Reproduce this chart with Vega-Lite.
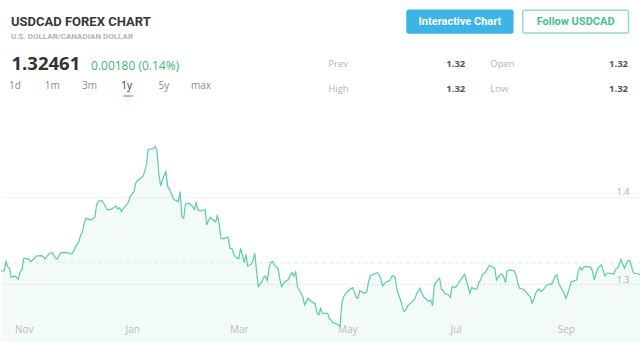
{
 "$schema": "https://vega.github.io/schema/vega-lite/v6.json",
 "padding": 0,
 "spacing": 0,
 "bounds": "flush",
 "background": "white",
 "config": {"view": {"stroke": null}, "font": "Open Sans"},
 "datasets": {
  "stats": [
   {"stat": "Prev", "value": 1.32, "column": "A", "line": "1"},
   {"stat": "Open", "value": 1.32, "column": "B", "line": "1"},
   {"stat": "High", "value": 1.32, "column": "A", "line": "2"},
   {"stat": "Low", "value": 1.32, "column": "B", "line": "2"}
  ],
  "buttons": [
   {"button": "Interactive Chart", "group": "actions"},
   {"button": "Follow USDCAD", "group": "actions"}
  ],
  "usdcad": [
   {"date":"2015-10-19","close":1.3152},{"date":"2015-10-21","close":1.3152},{"date":"2015-10-22","close":1.3259},{"date":"2015-10-23","close":1.3202},{"date":"2015-10-24","close":1.3183},{"date":"2015-10-25","close":1.3080},{"date":"2015-10-26","close":1.3088},{"date":"2015-10-27","close":1.3095},{"date":"2015-10-28","close":1.3080},{"date":"2015-10-29","close":1.3057},{"date":"2015-10-30","close":1.3145},{"date":"2015-10-31","close":1.3164},
   {"date":"2015-11-01","close":1.3297},{"date":"2015-11-02","close":1.3297},{"date":"2015-11-04","close":1.3285},{"date":"2015-11-05","close":1.3259},{"date":"2015-11-07","close":1.3297},{"date":"2015-11-08","close":1.3323},{"date":"2015-11-11","close":1.3327},{"date":"2015-11-12","close":1.3316},{"date":"2015-11-13","close":1.3289},{"date":"2015-11-15","close":1.3346},{"date":"2015-11-16","close":1.3354},{"date":"2015-11-17","close":1.3361},{"date":"2015-11-19","close":1.3297},{"date":"2015-11-20","close":1.3289},{"date":"2015-11-21","close":1.3335},{"date":"2015-11-22","close":1.3361},{"date":"2015-11-25","close":1.3365},{"date":"2015-11-27","close":1.3354},{"date":"2015-11-28","close":1.3346},{"date":"2015-11-29","close":1.3373},{"date":"2015-11-30","close":1.3422},
   {"date":"2015-12-02","close":1.3487},{"date":"2015-12-03","close":1.3563},{"date":"2015-12-04","close":1.3590},{"date":"2015-12-05","close":1.3696},{"date":"2015-12-06","close":1.3753},{"date":"2015-12-08","close":1.3742},{"date":"2015-12-09","close":1.3734},{"date":"2015-12-11","close":1.3765},{"date":"2015-12-12","close":1.3906},{"date":"2015-12-13","close":1.3951},{"date":"2015-12-15","close":1.3955},{"date":"2015-12-16","close":1.3925},{"date":"2015-12-18","close":1.3849},{"date":"2015-12-20","close":1.3856},{"date":"2015-12-21","close":1.3868},{"date":"2015-12-23","close":1.3894},{"date":"2015-12-24","close":1.3856},{"date":"2015-12-25","close":1.3875},{"date":"2015-12-26","close":1.3830},{"date":"2015-12-27","close":1.3868},{"date":"2015-12-29","close":1.3906},{"date":"2015-12-30","close":1.3944},{"date":"2015-12-31","close":1.4008},
   {"date":"2016-01-02","close":1.4058},{"date":"2016-01-03","close":1.4153},{"date":"2016-01-04","close":1.4183},{"date":"2016-01-05","close":1.4199},{"date":"2016-01-07","close":1.4229},{"date":"2016-01-08","close":1.4286},{"date":"2016-01-09","close":1.4362},{"date":"2016-01-10","close":1.4533},{"date":"2016-01-11","close":1.4541},{"date":"2016-01-13","close":1.4553},{"date":"2016-01-14","close":1.4572},{"date":"2016-01-15","close":1.4526},{"date":"2016-01-16","close":1.4267},{"date":"2016-01-17","close":1.4123},{"date":"2016-01-18","close":1.4191},{"date":"2016-01-20","close":1.4286},{"date":"2016-01-21","close":1.4115},{"date":"2016-01-22","close":1.4084},{"date":"2016-01-23","close":1.4039},{"date":"2016-01-24","close":1.3982},{"date":"2016-01-25","close":1.3963},{"date":"2016-01-26","close":1.3955},{"date":"2016-01-27","close":1.3944},{"date":"2016-01-28","close":1.4058},{"date":"2016-01-29","close":1.3772},{"date":"2016-01-30","close":1.3753},{"date":"2016-01-31","close":1.3917},
   {"date":"2016-02-02","close":1.3925},{"date":"2016-02-04","close":1.3887},{"date":"2016-02-05","close":1.3856},{"date":"2016-02-06","close":1.3928},{"date":"2016-02-07","close":1.3849},{"date":"2016-02-09","close":1.3837},{"date":"2016-02-11","close":1.3856},{"date":"2016-02-12","close":1.3677},{"date":"2016-02-13","close":1.3734},{"date":"2016-02-14","close":1.3765},{"date":"2016-02-15","close":1.3742},{"date":"2016-02-17","close":1.3715},{"date":"2016-02-18","close":1.3791},{"date":"2016-02-19","close":1.3677},{"date":"2016-02-20","close":1.3525},{"date":"2016-02-21","close":1.3518},{"date":"2016-02-23","close":1.3533},{"date":"2016-02-24","close":1.3537},{"date":"2016-02-25","close":1.3411},{"date":"2016-02-26","close":1.3411},{"date":"2016-02-27","close":1.3354},{"date":"2016-02-28","close":1.3316},{"date":"2016-02-29","close":1.3301},
   {"date":"2016-03-01","close":1.3293},{"date":"2016-03-02","close":1.3411},{"date":"2016-03-03","close":1.3335},{"date":"2016-03-04","close":1.3247},{"date":"2016-03-05","close":1.3342},{"date":"2016-03-06","close":1.3209},{"date":"2016-03-08","close":1.3232},{"date":"2016-03-09","close":1.3270},{"date":"2016-03-10","close":1.3354},{"date":"2016-03-11","close":1.3145},{"date":"2016-03-12","close":1.2973},{"date":"2016-03-13","close":1.3000},{"date":"2016-03-14","close":1.3030},{"date":"2016-03-15","close":1.3080},{"date":"2016-03-16","close":1.3095},{"date":"2016-03-17","close":1.3042},{"date":"2016-03-18","close":1.3183},{"date":"2016-03-19","close":1.3251},{"date":"2016-03-20","close":1.3259},{"date":"2016-03-21","close":1.3221},{"date":"2016-03-23","close":1.3183},{"date":"2016-03-24","close":1.3068},{"date":"2016-03-25","close":1.2973},{"date":"2016-03-26","close":1.3004},{"date":"2016-03-27","close":1.3030},{"date":"2016-03-29","close":1.3057},{"date":"2016-03-30","close":1.3107},{"date":"2016-03-31","close":1.3133},
   {"date":"2016-04-01","close":1.3095},{"date":"2016-04-02","close":1.3141},{"date":"2016-04-03","close":1.2973},{"date":"2016-04-04","close":1.2935},{"date":"2016-04-05","close":1.2897},{"date":"2016-04-06","close":1.2859},{"date":"2016-04-07","close":1.2764},{"date":"2016-04-08","close":1.2802},{"date":"2016-04-09","close":1.2840},{"date":"2016-04-11","close":1.2802},{"date":"2016-04-12","close":1.2791},{"date":"2016-04-13","close":1.2776},{"date":"2016-04-14","close":1.2669},{"date":"2016-04-15","close":1.2650},{"date":"2016-04-16","close":1.2726},{"date":"2016-04-17","close":1.2669},{"date":"2016-04-19","close":1.2669},{"date":"2016-04-20","close":1.2669},{"date":"2016-04-21","close":1.2604},{"date":"2016-04-22","close":1.2593},{"date":"2016-04-23","close":1.2562},{"date":"2016-04-25","close":1.2547},{"date":"2016-04-26","close":1.2536},{"date":"2016-04-27","close":1.2528},{"date":"2016-04-28","close":1.2783},{"date":"2016-04-29","close":1.2859},{"date":"2016-04-30","close":1.2890},
   {"date":"2016-05-01","close":1.2916},{"date":"2016-05-02","close":1.2935},{"date":"2016-05-04","close":1.2962},{"date":"2016-05-05","close":1.2916},{"date":"2016-05-06","close":1.2852},{"date":"2016-05-07","close":1.2840},{"date":"2016-05-08","close":1.2928},{"date":"2016-05-09","close":1.2916},{"date":"2016-05-11","close":1.2897},{"date":"2016-05-12","close":1.2916},{"date":"2016-05-13","close":1.3030},{"date":"2016-05-14","close":1.3095},{"date":"2016-05-16","close":1.3118},{"date":"2016-05-18","close":1.3133},{"date":"2016-05-19","close":1.3107},{"date":"2016-05-20","close":1.3049},{"date":"2016-05-21","close":1.2981},{"date":"2016-05-22","close":1.3011},{"date":"2016-05-23","close":1.3030},{"date":"2016-05-25","close":1.3042},{"date":"2016-05-26","close":1.3088},{"date":"2016-05-27","close":1.3095},{"date":"2016-05-28","close":1.3080},{"date":"2016-05-29","close":1.2935},{"date":"2016-05-30","close":1.2878},{"date":"2016-05-31","close":1.2821},
   {"date":"2016-06-01","close":1.2745},{"date":"2016-06-02","close":1.2688},{"date":"2016-06-03","close":1.2707},{"date":"2016-06-04","close":1.2753},{"date":"2016-06-06","close":1.2791},{"date":"2016-06-08","close":1.2829},{"date":"2016-06-09","close":1.2890},{"date":"2016-06-11","close":1.2954},{"date":"2016-06-12","close":1.2897},{"date":"2016-06-13","close":1.2859},{"date":"2016-06-15","close":1.2821},{"date":"2016-06-16","close":1.2802},{"date":"2016-06-17","close":1.2821},{"date":"2016-06-18","close":1.2753},{"date":"2016-06-19","close":1.2992},{"date":"2016-06-21","close":1.3049},{"date":"2016-06-22","close":1.3068},{"date":"2016-06-23","close":1.2943},{"date":"2016-06-24","close":1.2924},{"date":"2016-06-25","close":1.2897},{"date":"2016-06-27","close":1.2878},{"date":"2016-06-28","close":1.2852},{"date":"2016-06-29","close":1.2973},
   {"date":"2016-07-01","close":1.2966},{"date":"2016-07-02","close":1.2992},{"date":"2016-07-03","close":1.3030},{"date":"2016-07-04","close":1.3057},{"date":"2016-07-05","close":1.3088},{"date":"2016-07-06","close":1.3114},{"date":"2016-07-07","close":1.3049},{"date":"2016-07-08","close":1.2973},{"date":"2016-07-09","close":1.2897},{"date":"2016-07-10","close":1.2962},{"date":"2016-07-12","close":1.2947},{"date":"2016-07-13","close":1.2947},{"date":"2016-07-14","close":1.3011},{"date":"2016-07-15","close":1.3049},{"date":"2016-07-16","close":1.3107},{"date":"2016-07-18","close":1.3145},{"date":"2016-07-19","close":1.3183},{"date":"2016-07-20","close":1.3217},{"date":"2016-07-21","close":1.3202},{"date":"2016-07-23","close":1.3183},{"date":"2016-07-24","close":1.3049},{"date":"2016-07-25","close":1.3080},{"date":"2016-07-26","close":1.3107},{"date":"2016-07-27","close":1.3118},{"date":"2016-07-28","close":1.3088},{"date":"2016-07-29","close":1.3019},{"date":"2016-07-30","close":1.3156},
   {"date":"2016-08-01","close":1.3164},{"date":"2016-08-03","close":1.3152},{"date":"2016-08-04","close":1.3107},{"date":"2016-08-05","close":1.3019},{"date":"2016-08-06","close":1.2954},{"date":"2016-08-08","close":1.2943},{"date":"2016-08-09","close":1.2928},{"date":"2016-08-11","close":1.2878},{"date":"2016-08-12","close":1.2859},{"date":"2016-08-13","close":1.2783},{"date":"2016-08-14","close":1.2829},{"date":"2016-08-15","close":1.2897},{"date":"2016-08-16","close":1.2928},{"date":"2016-08-17","close":1.2947},{"date":"2016-08-18","close":1.2916},{"date":"2016-08-19","close":1.2935},{"date":"2016-08-20","close":1.2954},{"date":"2016-08-21","close":1.2989},{"date":"2016-08-23","close":1.3004},{"date":"2016-08-24","close":1.3000},{"date":"2016-08-25","close":1.3042},{"date":"2016-08-26","close":1.3095},{"date":"2016-08-27","close":1.3107},{"date":"2016-08-28","close":1.3011},{"date":"2016-08-29","close":1.2973},{"date":"2016-08-30","close":1.2935},{"date":"2016-08-31","close":1.2897},
   {"date":"2016-09-01","close":1.2840},{"date":"2016-09-02","close":1.2890},{"date":"2016-09-03","close":1.2954},{"date":"2016-09-04","close":1.3030},{"date":"2016-09-06","close":1.3042},{"date":"2016-09-07","close":1.3049},{"date":"2016-09-08","close":1.3145},{"date":"2016-09-09","close":1.3194},{"date":"2016-09-10","close":1.3164},{"date":"2016-09-11","close":1.3194},{"date":"2016-09-12","close":1.3202},{"date":"2016-09-13","close":1.3202},{"date":"2016-09-15","close":1.3194},{"date":"2016-09-16","close":1.3145},{"date":"2016-09-17","close":1.3049},{"date":"2016-09-18","close":1.3126},{"date":"2016-09-19","close":1.3183},{"date":"2016-09-20","close":1.3202},{"date":"2016-09-21","close":1.3221},{"date":"2016-09-22","close":1.3156},{"date":"2016-09-23","close":1.3095},{"date":"2016-09-24","close":1.3126},{"date":"2016-09-26","close":1.3126},{"date":"2016-09-27","close":1.3118},{"date":"2016-09-28","close":1.3118},{"date":"2016-09-29","close":1.3171},{"date":"2016-09-30","close":1.3183},
   {"date":"2016-10-01","close":1.3221},{"date":"2016-10-02","close":1.3285},{"date":"2016-10-03","close":1.3232},{"date":"2016-10-04","close":1.3183},{"date":"2016-10-05","close":1.3232},{"date":"2016-10-06","close":1.3270},{"date":"2016-10-07","close":1.3270},{"date":"2016-10-08","close":1.3202},{"date":"2016-10-09","close":1.3133},{"date":"2016-10-10","close":1.3126},{"date":"2016-10-12","close":1.3118},{"date":"2016-10-13","close":1.3107},{"date":"2016-10-14","close":1.3095}
  ]
 },
 "vconcat": [
  {
   "width": 640,
   "height": 110,
   "layer": [
    {
     "data": {"values": [{"label": "USDCAD FOREX CHART"}]},
     "mark": {"type": "text", "align": "left", "baseline": "alphabetic", "fontSize": 13, "fontWeight": "bold", "font": "Roboto", "color": "#383838"},
     "encoding": {
      "x": {"field": "label", "type": "nominal", "scale": {"type": "point", "range": [10, 10]}, "axis": null},
      "y": {"field": "label", "type": "nominal", "scale": {"type": "point", "range": [26, 26]}, "axis": null},
      "text": {"field": "label"}
     }
    },
    {
     "data": {"values": [{"label": "U.S. DOLLAR/CANADIAN DOLLAR"}]},
     "mark": {"type": "text", "align": "left", "baseline": "alphabetic", "fontSize": 8, "fontWeight": "bold", "font": "Roboto", "color": "#b3b3b3"},
     "encoding": {
      "x": {"field": "label", "type": "nominal", "scale": {"type": "point", "range": [10, 10]}, "axis": null},
      "y": {"field": "label", "type": "nominal", "scale": {"type": "point", "range": [39.3, 39.3]}, "axis": null},
      "text": {"field": "label"}
     }
    },
    {
     "data": {"values": [{"label": "1.32461"}]},
     "mark": {"type": "text", "align": "left", "baseline": "alphabetic", "fontSize": 18.5, "fontWeight": "bold", "color": "#333333"},
     "encoding": {
      "x": {"field": "label", "type": "nominal", "scale": {"type": "point", "range": [10.5, 10.5]}, "axis": null},
      "y": {"field": "label", "type": "nominal", "scale": {"type": "point", "range": [70.3, 70.3]}, "axis": null},
      "text": {"field": "label"}
     }
    },
    {
     "data": {"values": [{"label": "0.00180 (0.14%)"}]},
     "mark": {"type": "text", "align": "left", "baseline": "alphabetic", "fontSize": 12, "color": "#3fb573"},
     "encoding": {
      "x": {"field": "label", "type": "nominal", "scale": {"type": "point", "range": [90, 90]}, "axis": null},
      "y": {"field": "label", "type": "nominal", "scale": {"type": "point", "range": [69.5, 69.5]}, "axis": null},
      "text": {"field": "label"}
     }
    },
    {
     "data": {"values": [{"range": "1d"}, {"range": "1m"}, {"range": "3m"}, {"range": "1y"}, {"range": "5y"}, {"range": "max"}]},
     "mark": {"type": "text", "align": "center", "baseline": "alphabetic", "fontSize": 10},
     "encoding": {
      "x": {"field": "range", "type": "nominal", "sort": null, "scale": {"type": "point", "range": [14, 200], "padding": 0}, "axis": null},
      "y": {"field": "range", "type": "nominal", "sort": null, "scale": {"type": "point", "range": [89.3, 89.3]}, "axis": null},
      "text": {"field": "range"},
      "color": {"condition": {"test": "datum.range === '1y'", "value": "#333333"}, "value": "#8a8a8a"}
     }
    },
    {
     "data": {"values": [{"range": "1y"}]},
     "mark": {"type": "rect", "color": "#5cc4ee"},
     "encoding": {
      "x": {"field": "range", "type": "nominal", "scale": {"type": "band", "range": [122.3, 131.7], "padding": 0}, "axis": null},
      "y": {"field": "range", "type": "nominal", "scale": {"type": "band", "range": [95.3, 96.8], "padding": 0}, "axis": null}
     }
    },
    {
     "data": {"name": "buttons"},
     "mark": {"type": "rect", "strokeWidth": 1.5, "cornerRadius": 2},
     "encoding": {
      "x": {"field": "button", "type": "nominal", "sort": null, "scale": {"type": "band", "range": [406, 627.5], "paddingInner": 0.085, "paddingOuter": 0}, "axis": null},
      "y": {"field": "group", "type": "nominal", "scale": {"type": "band", "range": [10.3, 33], "padding": 0}, "axis": null},
      "fill": {"field": "button", "type": "nominal", "scale": {"domain": ["Interactive Chart", "Follow USDCAD"], "range": ["#3cb4e6", "#ffffff"]}, "legend": null},
      "stroke": {"field": "button", "type": "nominal", "scale": {"domain": ["Interactive Chart", "Follow USDCAD"], "range": ["#3cb4e6", "#8edfc2"]}, "legend": null}
     }
    },
    {
     "data": {"name": "buttons"},
     "mark": {"type": "text", "align": "center", "baseline": "middle", "fontSize": 11, "fontWeight": "bold", "font": "Roboto"},
     "encoding": {
      "x": {"field": "button", "type": "nominal", "sort": null, "scale": {"type": "band", "range": [406, 627.5], "paddingInner": 0.085, "paddingOuter": 0}, "axis": null},
      "y": {"field": "group", "type": "nominal", "scale": {"type": "band", "range": [10.3, 33], "padding": 0}, "axis": null},
      "text": {"field": "button"},
      "color": {"field": "button", "type": "nominal", "scale": {"domain": ["Interactive Chart", "Follow USDCAD"], "range": ["#ffffff", "#48bf8e"]}, "legend": null}
     }
    },
    {
     "data": {"name": "stats"},
     "mark": {"type": "text", "align": "left", "baseline": "middle", "fontSize": 9.5, "color": "#b5b5b5"},
     "encoding": {
      "x": {"field": "column", "type": "nominal", "scale": {"type": "point", "range": [327.3, 489.3], "padding": 0}, "axis": null},
      "y": {"field": "line", "type": "nominal", "scale": {"type": "point", "range": [64.3, 88.5], "padding": 0}, "axis": null},
      "text": {"field": "stat"}
     }
    },
    {
     "data": {"name": "stats"},
     "mark": {"type": "text", "align": "right", "baseline": "middle", "fontSize": 9.5, "fontWeight": "bold", "color": "#555555"},
     "encoding": {
      "x": {"field": "column", "type": "nominal", "scale": {"type": "point", "range": [464.3, 627], "padding": 0}, "axis": null},
      "y": {"field": "line", "type": "nominal", "scale": {"type": "point", "range": [64.3, 88.5], "padding": 0}, "axis": null},
      "text": {"field": "value", "format": ".2f"}
     }
    }
   ],
   "resolve": {"scale": {"x": "independent", "y": "independent", "color": "independent", "fill": "independent", "stroke": "independent"}}
  },
  {
   "width": 640,
   "height": 232,
   "encoding": {
    "y": {
     "field": "close", "type": "quantitative",
     "scale": {"domain": [1.23413, 1.49897], "zero": false, "nice": false},
     "axis": {"orient": "right", "values": [1.3, 1.4], "format": ".1f", "domain": false, "ticks": false, "tickSize": 0, "labelAlign": "right", "labelPadding": -12, "labelBaseline": "alphabetic", "labelOffset": -2, "labelColor": "#ababab", "labelFontSize": 9, "grid": true, "gridColor": "#e6e6e6", "gridDash": [2, 2], "title": null}
    }
   },
   "layer": [
    {
     "data": {"name": "usdcad"},
     "mark": {"type": "area", "color": "#5ccca2", "opacity": 0.07, "clip": true},
     "encoding": {
      "x": {"field": "date", "type": "temporal",
       "scale": {"type": "utc", "domain": [{"year": 2015, "month": 10, "date": 19, "hours": 5, "utc": true}, {"year": 2016, "month": 10, "date": 13, "hours": 7, "utc": true}]},
       "axis": {"orient": "bottom", "offset": -18, "values": [{"year": 2015, "month": 11, "date": 1, "utc": true}, {"year": 2016, "month": 1, "date": 1, "utc": true}, {"year": 2016, "month": 3, "date": 1, "utc": true}, {"year": 2016, "month": 5, "date": 1, "utc": true}, {"year": 2016, "month": 7, "date": 1, "utc": true}, {"year": 2016, "month": 9, "date": 1, "utc": true}], "format": "%b", "domain": false, "ticks": false, "tickSize": 0, "labelPadding": 0, "labelColor": "#bdbdbd", "labelFontSize": 10, "grid": false, "title": null}
      }
     }
    },
    {
     "data": {"values": [{"close": 1.32461}]},
     "mark": {"type": "rule", "color": "#dcebe5", "strokeDash": [4, 3], "strokeWidth": 1},
     "encoding": {}
    },
    {
     "data": {"name": "usdcad"},
     "mark": {"type": "line", "color": "#5ccca2", "strokeWidth": 1.2, "clip": true},
     "encoding": {
      "x": {"field": "date", "type": "temporal",
       "scale": {"type": "utc", "domain": [{"year": 2015, "month": 10, "date": 19, "hours": 5, "utc": true}, {"year": 2016, "month": 10, "date": 13, "hours": 7, "utc": true}]}
      }
     }
    }
   ]
  }
 ]
}
